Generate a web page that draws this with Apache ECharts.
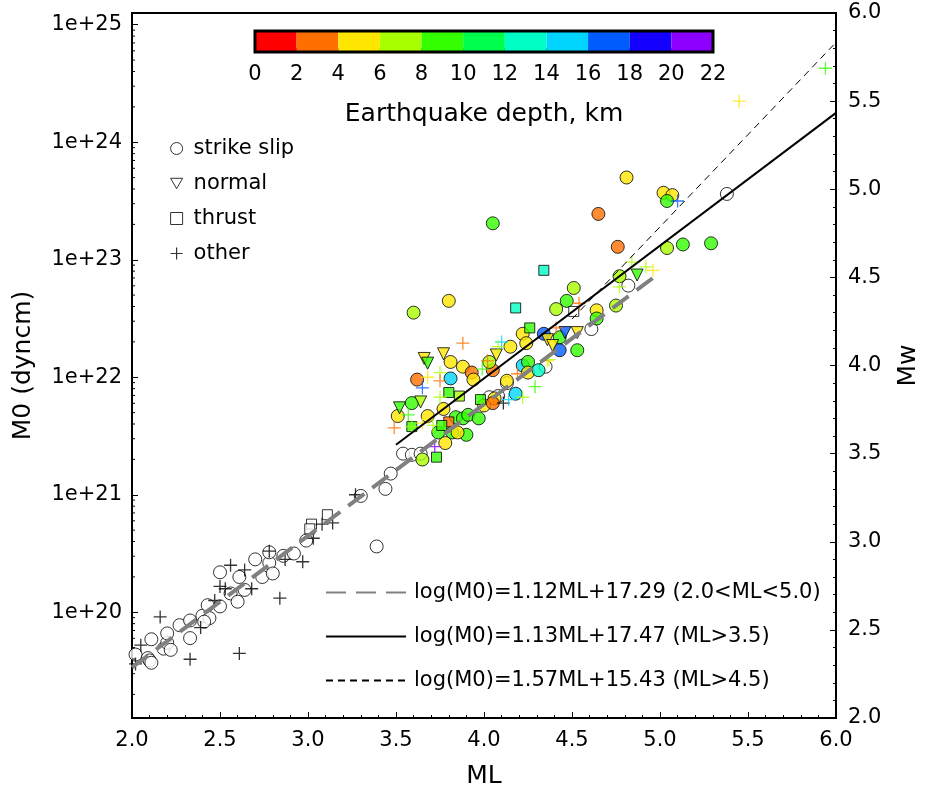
<!DOCTYPE html>
<html><head><meta charset="utf-8">
<script src="https://cdn.jsdelivr.net/npm/echarts@6/dist/echarts.min.js"></script>
<style>html,body{margin:0;padding:0;background:#fff}#chart{width:929px;height:797px}</style>
</head><body><div id="chart"></div>
<script>
// Events: [ML, log10(M0 in dyn*cm), depth in km (null = unknown)]
const strikeSlip = [
  [2.02,19.64,null],[2.09,19.61,null],[2.10,19.59,null],[2.11,19.57,null],[2.11,19.77,null],[2.18,19.69,null],
  [2.20,19.74,null],[2.22,19.68,null],[2.20,19.82,null],[2.27,19.89,null],[2.33,19.78,null],[2.33,19.93,null],
  [2.40,19.97,null],[2.43,20.06,null],[2.44,19.95,null],[2.41,19.92,null],[2.50,20.34,null],[2.50,20.05,null],
  [2.56,20.16,null],[2.60,20.09,null],[2.61,20.30,null],[2.64,20.19,null],[2.70,20.45,null],[2.74,20.30,null],
  [2.78,20.42,null],[2.78,20.51,null],[2.80,20.33,null],[2.86,20.48,null],[2.92,20.50,null],[2.99,20.61,null],
  [3.30,20.99,null],[3.44,21.05,null],[3.47,21.18,null],[3.39,20.56,null],[3.54,21.35,null],[3.59,21.34,null],
  [3.64,21.35,null],[4.03,21.83,null],[4.08,21.84,null],[4.35,22.09,null],[4.13,21.95,null],[4.82,22.78,null],
  [4.61,22.41,null],[5.38,23.56,null],
  [3.60,22.55,7],[3.80,22.65,5],[4.05,23.31,9],[4.41,22.58,7],[4.34,22.37,17],[4.22,22.37,5],[4.24,22.29,5],
  [4.15,22.26,5],[3.81,22.13,5],[3.88,22.09,5],[3.93,22.04,3],[3.81,21.99,15],[3.94,21.98,5],[3.62,21.98,3],
  [4.05,22.06,3],[4.03,22.13,7],[4.22,22.10,15],[4.25,22.13,9],[4.25,22.04,5],[4.31,22.06,13],[4.13,21.97,5],
  [4.18,21.86,15],[4.00,21.76,5],[4.06,21.82,5],[4.05,21.78,3],[3.59,21.78,9],[3.51,21.67,5],[3.68,21.67,5],
  [3.77,21.73,5],[3.84,21.66,9],[3.88,21.65,9],[3.91,21.68,9],[3.97,21.65,9],[3.74,21.53,9],[3.82,21.53,9],
  [3.90,21.51,9],[3.85,21.53,5],[3.78,21.44,5],[3.65,21.30,7],[4.43,22.34,9],[4.81,23.70,5],[5.02,23.57,5],
  [5.07,23.55,5],[5.04,23.50,9],[4.65,23.39,3],[4.76,23.11,3],[5.04,23.10,7],[5.13,23.13,9],[5.29,23.14,9],
  [4.77,22.86,7],[4.51,22.76,7],[4.47,22.65,9],[4.64,22.57,5],[4.64,22.50,9],[4.75,22.61,7],[4.53,22.23,9],
  [4.43,22.23,17]
];
const normal = [
  [3.77,22.20,5],[3.66,22.16,5],[3.68,22.12,9],[4.07,22.19,5],[3.64,21.79,7],[3.52,21.74,9],
  [4.36,22.32,5],[4.39,22.27,5],[4.46,22.38,17],[4.53,22.38,5],[4.87,22.87,9]
];
const thrust = [
  [3.11,20.83,null],[3.02,20.75,null],[3.01,20.71,null],[4.51,22.56,null],
  [4.18,22.59,13],[4.26,22.42,9],[4.34,22.91,13],[3.80,21.87,9],[3.86,21.84,7],[3.98,21.81,9],
  [3.80,21.62,3],[3.76,21.59,9],[3.59,21.58,9],[3.73,21.32,9]
];
const other = [
  [2.05,19.72,null],[2.02,19.56,null],[2.16,19.96,null],[2.33,19.60,null],[2.39,19.87,null],[2.47,20.10,null],
  [2.50,20.22,null],[2.53,20.20,null],[2.56,20.40,null],[2.61,19.65,null],[2.64,20.36,null],[2.68,20.20,null],
  [2.78,20.52,null],[2.84,20.12,null],[2.87,20.45,null],[2.97,20.43,null],[3.03,20.63,null],[3.08,20.75,null],
  [3.14,20.76,null],[3.27,21.00,null],[4.11,21.78,null],
  [3.88,22.29,3],[4.10,22.30,15],[4.08,22.26,7],[3.75,22.04,7],[3.68,22.00,5],[3.65,21.91,17],[3.75,21.97,3],
  [4.02,22.14,3],[3.99,22.07,9],[4.37,22.15,7],[4.41,22.42,3],[4.19,22.03,3],[4.29,21.92,9],[4.22,21.83,7],
  [4.14,21.81,15],[3.75,21.83,7],[3.57,21.68,9],[3.49,21.57,3],[3.59,21.58,7],[3.65,21.61,5],[3.71,21.59,7],
  [3.72,21.41,21],[4.54,22.63,3],[4.36,22.14,5],[4.84,22.98,7],[4.92,22.94,7],[4.96,22.91,5],[4.77,22.77,7],
  [5.10,23.50,17],[5.45,24.35,5],[5.94,24.63,9]
];

// Depth classes of the colour scale, km
const depthEdges = [0,2,4,6,8,10,12,14,16,18,20,22];
const depthColors = ['#ff0000','#ff6f00','#ffe600','#a8ff00','#33ff00','#00ff4c',
                     '#00ffc4','#00d4ff','#005cff','#1400ff','#8c00ff'];

// Regression lines log(M0) = a*ML + b, each over its ML range
const fitNames = ['log(M0)=1.12ML+17.29 (2.0<ML<5.0)','log(M0)=1.13ML+17.47 (ML>3.5)','log(M0)=1.57ML+15.43 (ML>4.5)'];
const fitSlopes = [1.12, 1.13, 1.57];
const fitIntercepts = [17.29, 17.47, 15.43];
const fitRanges = [[2.0,5.0],[3.5,6.0],[4.5,6.0]];

// Axis ranges: Mw = (log10(M0) - 16.1) / 1.5
const mlRange = [2.0, 6.0];
const mwRange = [2.0, 6.0];
const logM0Range = [mwRange[0]*1.5+16.1, mwRange[1]*1.5+16.1];

const FONT = 'DejaVu Sans';
const plusPath = 'path://M5,0L5,10M0,5L10,5';
const downTriangle = 'path://M0,0L10,0L5,8.66Z';

function depthColor(d) {
  for (let i = 0; i < depthColors.length; i++) {
    if (d >= depthEdges[i] && d < depthEdges[i+1]) return depthColors[i];
  }
  return depthColors[depthColors.length-1];
}

function filledPoints(rows) {
  return rows.map(r => ({
    value: [r[0], Math.pow(10, r[1]), r[2]],
    itemStyle: { color: r[2] == null ? '#ffffff' : depthColor(r[2]), borderColor: '#000', borderWidth: 1 }
  }));
}
function crossPoints(rows) {
  return rows.map(r => {
    const c = r[2] == null ? '#000000' : depthColor(r[2]);
    return { value: [r[0], Math.pow(10, r[1]), r[2]], itemStyle: { color: c, borderColor: c, borderWidth: 1.3 } };
  });
}

// Logarithmic minor ticks (2..9 x 10^n) inside the M0 range
const logMinorTicks = [];
for (let n = Math.floor(logM0Range[0]); n <= Math.ceil(logM0Range[1]); n++) {
  for (let k = 2; k <= 9; k++) {
    const v = k * Math.pow(10, n);
    const lv = Math.log10(v);
    if (lv > logM0Range[0] && lv < logM0Range[1]) logMinorTicks.push([mlRange[0], v]);
  }
}

const fitStyles = [
  { color: '#808080', width: 4, type: [20, 10] },
  { color: '#000000', width: 2, type: 'solid' },
  { color: '#000000', width: 1, type: [7, 5] }
];

const fitSeries = fitNames.map((name, i) => ({
  name, type: 'line', xAxisIndex: 0, yAxisIndex: 0, symbol: 'none', z: 5,
  lineStyle: fitStyles[i], itemStyle: { color: fitStyles[i].color },
  data: fitRanges[i].map(ml => [ml, Math.pow(10, fitSlopes[i]*ml + fitIntercepts[i])])
}));

const chart = echarts.init(document.getElementById('chart'));
chart.setOption({
  animation: false,
  textStyle: { fontFamily: FONT, color: '#000' },
  grid: [
    { left: 132, top: 13, width: 704, height: 705, show: true, borderColor: '#000', borderWidth: 2, backgroundColor: 'transparent' },
    { left: 255, top: 31, width: 458, height: 21, show: true, borderColor: '#000', borderWidth: 3, z: 6, backgroundColor: 'transparent' }
  ],
  xAxis: [
    { type: 'value', gridIndex: 0, min: mlRange[0], max: mlRange[1], interval: 0.5,
      name: 'ML', nameLocation: 'middle', nameGap: 46, nameTextStyle: { fontSize: 25, fontFamily: FONT, color: '#000' },
      axisLine: { onZero: false, lineStyle: { color: '#000', width: 2 } },
      axisTick: { inside: true, length: 6, lineStyle: { color: '#000' } },
      minorTick: { show: true, splitNumber: 5, length: 3, lineStyle: { color: '#000' } },
      axisLabel: { fontSize: 21, fontFamily: FONT, color: '#000', margin: 12, formatter: v => v.toFixed(1) },
      splitLine: { show: false } },
    { type: 'value', gridIndex: 1, min: depthEdges[0], max: depthEdges[depthEdges.length-1], interval: 2,
      name: 'Earthquake depth, km', nameLocation: 'middle', nameGap: 50,
      nameTextStyle: { fontSize: 25, fontFamily: FONT, color: '#000' },
      axisLine: { show: false },
      axisTick: { inside: true, length: 4, lineStyle: { color: '#000', width: 1.5 } },
      axisLabel: { fontSize: 21, fontFamily: FONT, color: '#000', margin: 12 },
      splitLine: { show: false } }
  ],
  yAxis: [
    { type: 'log', gridIndex: 0, logBase: 10, min: Math.pow(10, logM0Range[0]), max: Math.pow(10, logM0Range[1]),
      name: 'M0 (dyncm)', nameLocation: 'middle', nameGap: 96, nameRotate: 90,
      nameTextStyle: { fontSize: 25, fontFamily: FONT, color: '#000' },
      axisLine: { show: true, lineStyle: { color: '#000', width: 2 } },
      axisTick: { inside: true, length: 6, lineStyle: { color: '#000' } },
      minorTick: { show: false },
      axisLabel: { fontSize: 21, fontFamily: FONT, color: '#000', margin: 10,
        formatter: v => { const e = Math.log10(v); return Math.abs(e - Math.round(e)) < 1e-6 ? '1e+' + Math.round(e) : ''; } },
      splitLine: { show: false } },
    { type: 'value', gridIndex: 0, position: 'right', min: mwRange[0], max: mwRange[1], interval: 0.5,
      name: 'Mw', nameLocation: 'middle', nameGap: 60, nameRotate: 90,
      nameTextStyle: { fontSize: 25, fontFamily: FONT, color: '#000' },
      axisLine: { show: true, lineStyle: { color: '#000', width: 2 } },
      axisTick: { inside: true, length: 6, lineStyle: { color: '#000' } },
      minorTick: { show: true, splitNumber: 5, length: 3, lineStyle: { color: '#000' } },
      axisLabel: { fontSize: 21, fontFamily: FONT, color: '#000', margin: 12, formatter: v => v.toFixed(1) },
      splitLine: { show: false } },
    { type: 'value', gridIndex: 1, min: 0, max: 1, show: false }
  ],
  legend: [
    { orient: 'vertical', left: 165, top: 133, itemWidth: 12, itemHeight: 12, itemGap: 14,
      textStyle: { fontSize: 21, fontFamily: FONT, color: '#000', padding: [0, 0, 0, 6] },
      data: [
        { name: 'strike slip', icon: 'circle', itemStyle: { color: '#fff', borderColor: '#000', borderWidth: 1 } },
        { name: 'normal', icon: downTriangle, itemStyle: { color: '#fff', borderColor: '#000', borderWidth: 1 } },
        { name: 'thrust', icon: 'rect', itemStyle: { color: '#fff', borderColor: '#000', borderWidth: 1 } },
        { name: 'other', icon: plusPath, itemStyle: { color: '#000', borderColor: '#000', borderWidth: 1.2 } }
      ] },
    { orient: 'vertical', left: 320, top: 577, itemWidth: 80, itemHeight: 14, itemGap: 23,
      itemStyle: { opacity: 0 },
      textStyle: { fontSize: 21, fontFamily: FONT, color: '#000', padding: [0, 0, 0, 3] },
      data: fitNames }
  ],
  series: [
    { name: 'strike slip', type: 'scatter', symbol: 'circle', symbolSize: 13, data: filledPoints(strikeSlip), z: 3 },
    { name: 'normal', type: 'scatter', symbol: 'triangle', symbolRotate: 180, symbolSize: 12, data: filledPoints(normal), z: 3 },
    { name: 'thrust', type: 'scatter', symbol: 'rect', symbolSize: 10, data: filledPoints(thrust), z: 3 },
    { name: 'other', type: 'scatter', symbol: plusPath, symbolSize: 13, data: crossPoints(other), z: 3 },
    ...fitSeries,
    { type: 'custom', xAxisIndex: 0, yAxisIndex: 0, silent: true, z: 6, clip: false,
      data: logMinorTicks,
      renderItem: (params, api) => {
        const p = api.coord([api.value(0), api.value(1)]);
        return { type: 'line', shape: { x1: p[0], y1: p[1], x2: p[0] + 3, y2: p[1] },
                 style: { stroke: '#000', lineWidth: 1 } };
      } },
    { type: 'custom', xAxisIndex: 1, yAxisIndex: 2, silent: true, z: 2,
      data: depthColors.map((c, i) => [depthEdges[i], depthEdges[i+1], i]),
      renderItem: (params, api) => {
        const p0 = api.coord([api.value(0), 0]);
        const p1 = api.coord([api.value(1), 1]);
        return { type: 'rect', shape: { x: p0[0], y: p1[1], width: p1[0] - p0[0], height: p0[1] - p1[1] },
                 style: { fill: depthColors[api.value(2)] } };
      } }
  ]
});
</script></body></html>
